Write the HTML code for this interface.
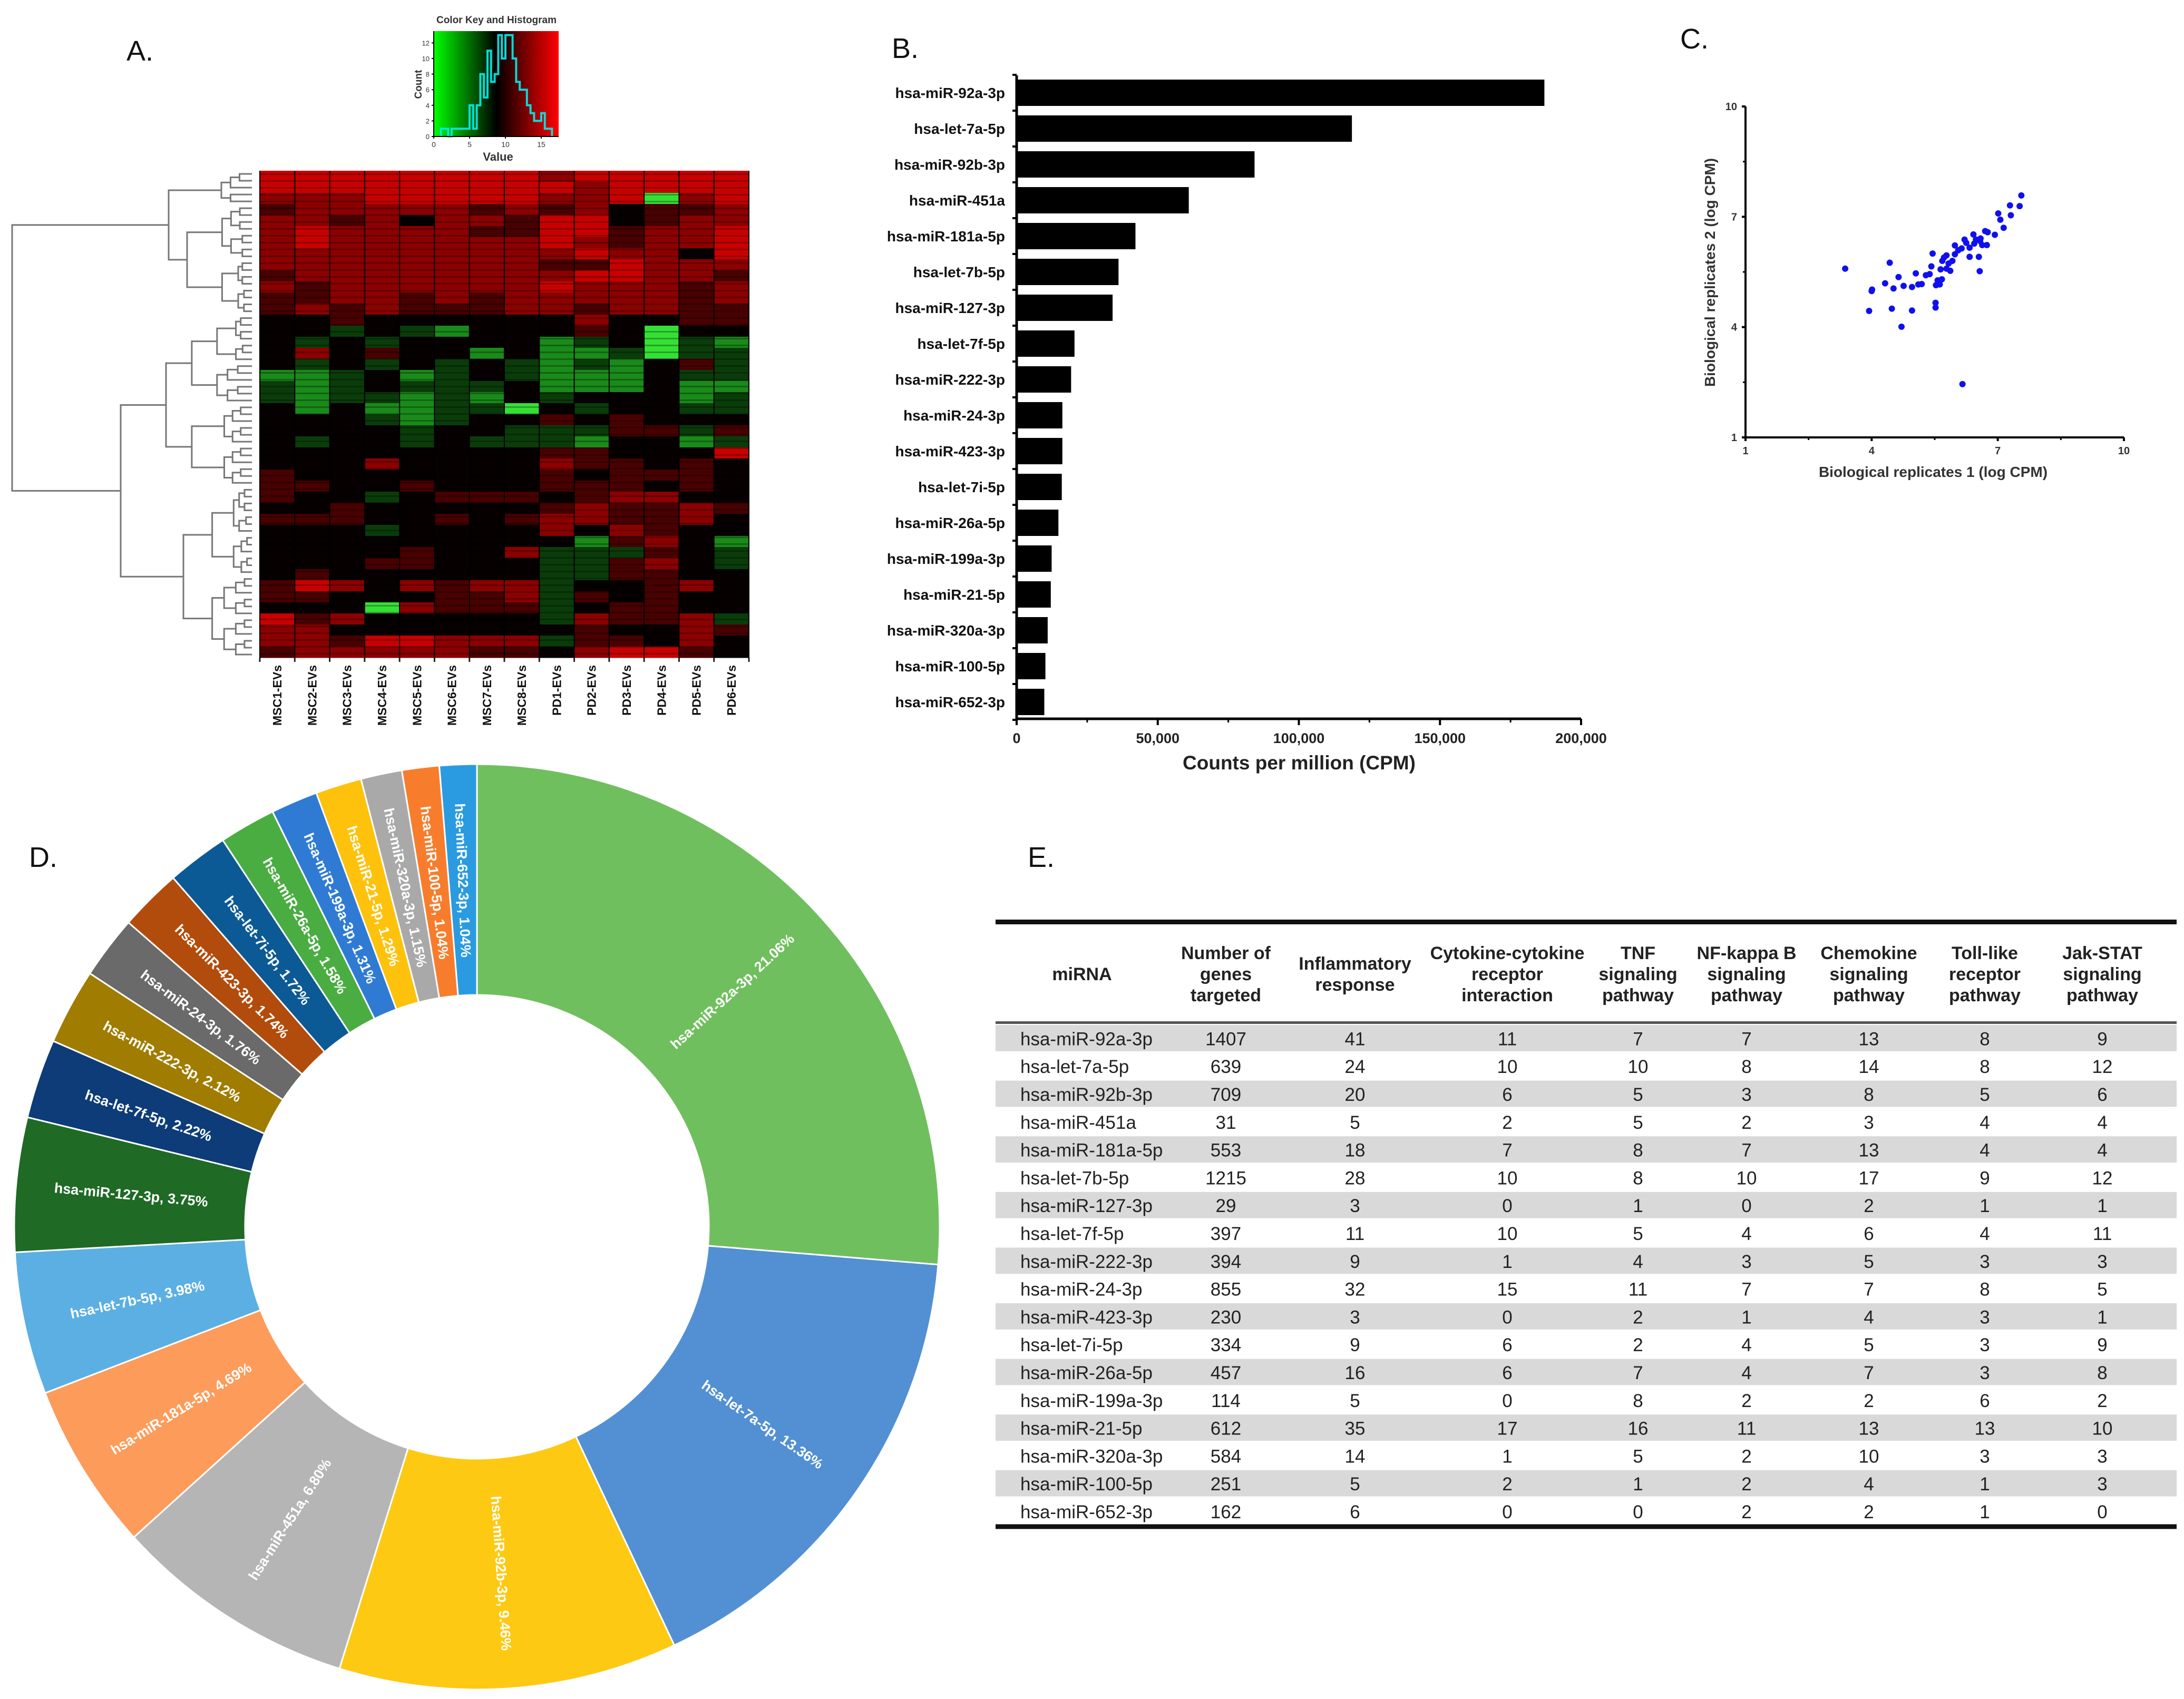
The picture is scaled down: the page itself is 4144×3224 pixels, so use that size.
<!DOCTYPE html>
<html><head><meta charset="utf-8">
<style>
html,body{margin:0;padding:0;background:#fff;}
svg{display:block;}
text{font-family:"Liberation Sans",Arial,sans-serif;}
.narrow{font-family:"Liberation Sans Narrow","Liberation Sans",sans-serif;}
</style></head>
<body>
<svg id="fig" xmlns="http://www.w3.org/2000/svg" width="4144" height="3224" viewBox="0 0 4144 3224">
<rect x="0" y="0" width="4144" height="3224" fill="#fff"/>
<g id="letters" font-size="54" fill="#111">
<text x="240" y="115">A.</text>
<text x="1692" y="110">B.</text>
<text x="3188" y="92">C.</text>
<text x="55" y="1645">D.</text>
<text x="1950" y="1645">E.</text>
</g>
<g id="heat"></g>
<g id="bars"></g>
<g id="scatter"></g>
<g id="donut"></g>
<g id="table"></g>
</svg>
<script>
// ---------- Panel A data ----------
const heatCols = ["MSC1-EVs","MSC2-EVs","MSC3-EVs","MSC4-EVs","MSC5-EVs","MSC6-EVs","MSC7-EVs","MSC8-EVs","PD1-EVs","PD2-EVs","PD3-EVs","PD4-EVs","PD5-EVs","PD6-EVs"];
const heatRows = [
"RRRRRRRRrRRRRR","RRRRRRRRRrRRRR","rrrRRRRRrrRBrR","drrrrrdrdrkddr","rrdrkrrdRRkdrr","rRrrrrddRRdrrR",
"rRrrrrrrRrdrrR","rrrrrrrrrRrrkR","rrrrrrrrddRrrr","drrrrrrrrRRrrd","rdrrrrrrRrrrdr","ddrrdrdrrrrrdr",
"drdrdddrrdrrdd","kkdkkkkkkrkkdd","kkgkgGkkkdkBkk","kgkgkkkkGgkBgG","krkdkkGkGGgBgg","kgkgkgkgGgGkdg",
"GGgkGgkgGGGkgg","gGgkgggkGGGkGG","gGggGgGkgkkkGg","kGkGGggBkgkkgg","kkkgGgkkdkdkkk","kkkkgkkgggddgd",
"kgkkgkgggGkkGg","kkkkkkkkddkkkR","kkkrkkkkrddkdk","dkkkkkkkdkdddk","ddkkdkkkdddkdk","dkkgkdddkdrrkk",
"kkdkkkkkdrddrd","dddkkdkdrrddrk","kkkgkkkkrkrdkk","kkkkkkkkkGdrkG","kkkkdkkrgggdkg","kkkddkkkggdrkg",
"kdkkkkkkggddkk","dRrkrdrrgkkdrk","ddkkkddrgdkdkk","kkkBrdddgkddkk","Rdrkkkkkgrddrg","rrkkkkkkkdkkrd",
"rrdRRrrrgddkrk","drrrrrddkrRRdk"];
const histBinStart = [1,1.5,2,2.5,3,3.5,4,4.5,5,5.5,6,6.5,7,7.5,8,8.5,9,9.5,10,10.5,11,11.5,12,12.5,13,13.5,14,14.5,15,15.5,16];
const histCounts = [1,1,0,1,1,1,1,1,4,1,4,8,5,11,7,8,13,10,13,13,10,7,6,6,4,3,2,2,3,1,1];
const histXTicks = [0,5,10,15];
const histYTicks = [0,2,4,6,8,10,12];
// ---------- Panel B data ----------
const barLabels = ["hsa-miR-92a-3p","hsa-let-7a-5p","hsa-miR-92b-3p","hsa-miR-451a","hsa-miR-181a-5p","hsa-let-7b-5p","hsa-miR-127-3p","hsa-let-7f-5p","hsa-miR-222-3p","hsa-miR-24-3p","hsa-miR-423-3p","hsa-let-7i-5p","hsa-miR-26a-5p","hsa-miR-199a-3p","hsa-miR-21-5p","hsa-miR-320a-3p","hsa-miR-100-5p","hsa-miR-652-3p"];
const barValues = [187000,118800,84300,61000,42100,36100,34000,20500,19300,16200,16200,16000,14800,12400,12100,11000,10200,9800];
const barTicks = [0,50000,100000,150000,200000];
const barTickLabels = ["0","50,000","100,000","150,000","200,000"];
// ---------- Panel C data ----------
const repX = [3.37,4.43,3.94,4.0,4.01,4.32,4.48,4.52,4.64,4.71,4.76,4.96,4.96,5.05,5.11,5.19,5.29,5.38,5.42,5.45,5.52,5.52,5.53,5.57,5.62,5.67,5.68,5.72,5.64,5.78,5.78,5.83,5.87,5.92,5.98,5.98,6.06,6.14,6.16,6.21,6.25,6.33,6.33,6.42,6.44,6.48,6.55,6.57,6.58,6.59,6.63,6.70,6.74,6.76,6.93,7.01,7.06,7.14,7.29,7.31,7.52,7.56];
const repY = [5.59,5.75,4.44,4.98,5.02,5.19,4.50,5.05,5.36,4.01,5.12,4.45,5.09,5.46,5.16,5.17,5.41,5.44,5.65,6.00,4.53,4.66,5.14,5.27,5.16,5.30,5.80,5.89,5.57,5.95,5.59,5.73,5.53,5.80,5.98,6.22,6.09,6.14,2.45,6.38,6.29,6.16,5.91,6.52,6.27,6.38,5.91,5.52,6.34,6.41,6.23,6.61,6.23,6.58,6.51,7.09,6.92,6.70,7.31,7.04,7.29,7.58];
const scatTicks = [1,4,7,10];
// ---------- Panel D data ----------
const pieLabels = ["hsa-miR-92a-3p","hsa-let-7a-5p","hsa-miR-92b-3p","hsa-miR-451a","hsa-miR-181a-5p","hsa-let-7b-5p","hsa-miR-127-3p","hsa-let-7f-5p","hsa-miR-222-3p","hsa-miR-24-3p","hsa-miR-423-3p","hsa-let-7i-5p","hsa-miR-26a-5p","hsa-miR-199a-3p","hsa-miR-21-5p","hsa-miR-320a-3p","hsa-miR-100-5p","hsa-miR-652-3p"];
const piePercents = [21.06,13.36,9.46,6.80,4.69,3.98,3.75,2.22,2.12,1.76,1.74,1.72,1.58,1.31,1.29,1.15,1.04,1.04];
const pieColors = ["#70bf5e","#5290d3","#fec912","#b5b5b5","#fd9b5a","#5cafe2","#1f6a25","#0d3c78","#a07c00","#6a6a6a","#b24c0c","#0c5a95","#4aad41","#2f7bd4","#fec20c","#a9a9a9","#f77d2d","#2a9be0"];
// ---------- Panel E data ----------
const tableHeaders = [["miRNA"],["Number of","genes","targeted"],["Inflammatory","response"],["Cytokine-cytokine","receptor","interaction"],["TNF","signaling","pathway"],["NF-kappa B","signaling","pathway"],["Chemokine","signaling","pathway"],["Toll-like","receptor","pathway"],["Jak-STAT","signaling","pathway"]];
const tableRows = [
["hsa-miR-92a-3p",1407,41,11,7,7,13,8,9],["hsa-let-7a-5p",639,24,10,10,8,14,8,12],["hsa-miR-92b-3p",709,20,6,5,3,8,5,6],
["hsa-miR-451a",31,5,2,5,2,3,4,4],["hsa-miR-181a-5p",553,18,7,8,7,13,4,4],["hsa-let-7b-5p",1215,28,10,8,10,17,9,12],
["hsa-miR-127-3p",29,3,0,1,0,2,1,1],["hsa-let-7f-5p",397,11,10,5,4,6,4,11],["hsa-miR-222-3p",394,9,1,4,3,5,3,3],
["hsa-miR-24-3p",855,32,15,11,7,7,8,5],["hsa-miR-423-3p",230,3,0,2,1,4,3,1],["hsa-let-7i-5p",334,9,6,2,4,5,3,9],
["hsa-miR-26a-5p",457,16,6,7,4,7,3,8],["hsa-miR-199a-3p",114,5,0,8,2,2,6,2],["hsa-miR-21-5p",612,35,17,16,11,13,13,10],
["hsa-miR-320a-3p",584,14,1,5,2,10,3,3],["hsa-miR-100-5p",251,5,2,1,2,4,1,3],["hsa-miR-652-3p",162,6,0,0,2,2,1,0]];

const NS="http://www.w3.org/2000/svg";
function mk(tag, attrs, parent, txt){const e=document.createElementNS(NS,tag);for(const k in attrs)e.setAttribute(k,attrs[k]);if(txt!==undefined)e.textContent=txt;parent.appendChild(e);return e;}

// ===== Panel A heatmap =====
(function(){
const g=document.getElementById('heat');
const X0=493,X1=1421,Y0=324,Y1=1248;
const cw=(X1-X0)/heatCols.length, rh=(Y1-Y0)/heatRows.length;
const cmap={R:"#c80000",r:"#8c0000",d:"#480000",k:"#060000",g:"#0a3c0a",G:"#1a8a1a",B:"#35e035"};
heatRows.forEach((row,i)=>{for(let j=0;j<heatCols.length;j++){
  const c=mk('rect',{x:X0+j*cw,y:Y0+i*rh,width:cw+0.5,height:rh+0.5,fill:cmap[row[j]]},g);
  
  
}});
// stripe texture
for(let y=Y0+6.5;y<Y1;y+=13){mk('line',{x1:X0,x2:X1,y1:y,y2:y,stroke:"#000","stroke-width":3,opacity:0.28},g);}
for(let j=0;j<=heatCols.length;j++){
  mk('line',{x1:X0+j*cw,x2:X0+j*cw,y1:Y0,y2:Y1,stroke:"#000","stroke-width":2},g);
  mk('line',{x1:X0+j*cw,x2:X0+j*cw,y1:Y1,y2:Y1+8,stroke:"#222","stroke-width":3},g);
}
heatCols.forEach((c,j)=>{
  const t=mk('text',{x:0,y:0,transform:`translate(${X0+(j+0.5)*cw+8},1262) rotate(-90)`,"text-anchor":"end","font-size":23,"font-weight":"bold",fill:"#111"},g,c);
  
  
});
// dendrogram
const dg=mk('g',{stroke:"#777","stroke-width":3,fill:"none"},g);


const NL=71, LX=478, ly=i=>Y0+6+i*(Y1-Y0-12)/(NL-1);
function node(lo,hi,x,depth){
  if(lo===hi) return ly(lo);
  const mid=Math.floor((lo+hi)/2);
  const cx=x+(LX-x)*(0.3+0.12*((lo+depth)%3));
  const ya=node(lo,mid,mid===lo?LX:cx,depth+1), yb=node(mid+1,hi,mid+1===hi?LX:cx,depth+1);
  const xa=mid===lo?LX:cx, xb=mid+1===hi?LX:cx;
  mk('path',{d:`M${xa},${ya}H${x}V${yb}H${xb}`},dg);
  return (ya+yb)/2;
}
function sub(lo,hi,x){return node(lo,hi,x,0);}
const a1=sub(0,4,420), a2=sub(5,20,355);
mk('path',{d:`M420,${a1}H320V${a2}H355`},dg);
const b1=sub(21,45,315), b2=sub(46,70,348);
mk('path',{d:`M315,${b1}H229V${b2}H348`},dg);
const A=(a1+a2)/2,B=(b1+b2)/2;
mk('path',{d:`M320,${A}H23V${B}H229`},dg);
// color key
const k=mk('g',{},g);


const defs=mk('defs',{},k);
const lg=mk('linearGradient',{id:'gk',x1:0,x2:1,y1:0,y2:0},defs);
mk('stop',{offset:"0",'stop-color':"#00ff00"},lg);mk('stop',{offset:"0.5",'stop-color':"#000"},lg);mk('stop',{offset:"1",'stop-color':"#ff0000"},lg);
const KX0=823,KX1=1060,KY0=59,KY1=259;
const vx=v=>KX0+v*13.6, cy=c=>KY1-c*14.8;
mk('rect',{x:KX0,y:KY0,width:KX1-KX0,height:KY1-KY0,fill:"url(#gk)"},k);
let d=`M${vx(histBinStart[0])},${KY1}`;
histBinStart.forEach((b,i)=>{d+=`V${cy(histCounts[i])}H${vx(b+0.5)}`;});
d+=`V${KY1}`;
const hp=mk('path',{d:d,fill:"none",stroke:"#00f0f0","stroke-width":4,opacity:0.9},k);


mk('line',{x1:KX0,x2:KX1,y1:KY1,y2:KY1,stroke:"#000","stroke-width":2},k);
mk('line',{x1:KX0,x2:KX0,y1:KY0,y2:KY1,stroke:"#000","stroke-width":2},k);
histXTicks.forEach(v=>{mk('line',{x1:vx(v),x2:vx(v),y1:KY1,y2:KY1+4,stroke:"#000","stroke-width":2},k);
  mk('text',{x:vx(v),y:KY1+20,"font-size":14,"text-anchor":"middle",fill:"#333"},k,String(v));});
histYTicks.forEach(v=>{mk('line',{x1:KX0-4,x2:KX0,y1:cy(v),y2:cy(v),stroke:"#000","stroke-width":2},k);
  mk('text',{x:KX0-8,y:cy(v)+5,"font-size":13,"text-anchor":"end",fill:"#333"},k,String(v));});
mk('text',{x:942,y:44,"font-size":19,"font-weight":"bold","text-anchor":"middle",fill:"#333"},k,"Color Key and Histogram");
mk('text',{x:945,y:305,"font-size":22,"font-weight":"bold","text-anchor":"middle",fill:"#333"},k,"Value");
mk('text',{x:0,y:0,transform:"translate(800,160) rotate(-90)","font-size":19,"font-weight":"bold","text-anchor":"middle",fill:"#333"},k,"Count");
})();

// ===== Panel B bars =====
(function(){
const g=document.getElementById('bars');
const AX=1929, AXR=3000, AY=1364, top=143;
const xs=v=>AX+v/200000*(AXR-AX);
const y0=176, step=68, bh=50;
barLabels.forEach((l,i)=>{
  const r=mk('rect',{x:AX,y:y0+i*step-bh/2,width:xs(barValues[i])-AX,height:bh,fill:"#000"},g);
  
  
  const t=mk('text',{x:1907,y:y0+i*step+10,"font-size":28,"font-weight":"bold","text-anchor":"end",fill:"#111"},g,l);
  
  
});
mk('line',{x1:AX,x2:AX,y1:top,y2:AY,stroke:"#000","stroke-width":5},g);
mk('line',{x1:AX,x2:AXR,y1:AY,y2:AY,stroke:"#000","stroke-width":5},g);
for(let i=0;i<=barLabels.length;i++){const yy=y0-step/2+i*step; mk('line',{x1:AX-8,x2:AX,y1:yy,y2:yy,stroke:"#000","stroke-width":4},g);}
barTicks.forEach((v,i)=>{
  mk('line',{x1:xs(v),x2:xs(v),y1:AY,y2:AY+12,stroke:"#000","stroke-width":4},g);
  if(i<barTicks.length-1){const m=xs(v+25000);mk('line',{x1:m,x2:m,y1:AY,y2:AY+7,stroke:"#000","stroke-width":3},g);}
  const t=mk('text',{x:xs(v),y:1410,"font-size":27,"font-weight":"bold","text-anchor":"middle",fill:"#222"},g,barTickLabels[i]);
  
  
});
const tt=mk('text',{x:2465,y:1460,"font-size":37,"font-weight":"bold","text-anchor":"middle",fill:"#222"},g,"Counts per million (CPM)");


})();

// ===== Panel C scatter =====
(function(){
const g=document.getElementById('scatter');
const X0=3312,X1=4030,Y0=830,Y1=202;
const sx=v=>X0+(v-1)/9*(X1-X0), sy=v=>Y0-(v-1)/9*(Y0-Y1);
mk('line',{x1:X0,x2:X1,y1:Y0,y2:Y0,stroke:"#000","stroke-width":4},g);
mk('line',{x1:X0,x2:X0,y1:Y0,y2:Y1,stroke:"#000","stroke-width":4},g);
scatTicks.forEach((v,i)=>{
  mk('line',{x1:sx(v),x2:sx(v),y1:Y0,y2:Y0+7,stroke:"#000","stroke-width":4},g);
  mk('line',{x1:X0-7,x2:X0,y1:sy(v),y2:sy(v),stroke:"#000","stroke-width":4},g);
  if(i<scatTicks.length-1){mk('line',{x1:sx(v+1.5),x2:sx(v+1.5),y1:Y0,y2:Y0+5,stroke:"#000","stroke-width":3},g);
    mk('line',{x1:X0-5,x2:X0,y1:sy(v+1.5),y2:sy(v+1.5),stroke:"#000","stroke-width":3},g);}
  mk('text',{x:sx(v),y:Y0+32,"font-size":20,"font-weight":"bold","text-anchor":"middle",fill:"#333"},g,String(v));
  mk('text',{x:X0-16,y:sy(v)+7,"font-size":20,"font-weight":"bold","text-anchor":"end",fill:"#333"},g,String(v));
});
repX.forEach((x,i)=>{
  const c=mk('circle',{cx:sx(x),cy:sy(repY[i]),r:6,fill:"#1010ee"},g);
  
  
});
const xt=mk('text',{x:3668,y:905,"font-size":28,"font-weight":"bold","text-anchor":"middle",fill:"#333"},g,"Biological replicates 1 (log CPM)");


const yt=mk('text',{x:0,y:0,transform:"translate(3254,517) rotate(-90)","font-size":28,"font-weight":"bold","text-anchor":"middle",fill:"#333"},g,"Biological replicates 2 (log CPM)");


})();

// ===== Panel D donut =====
(function(){
const g=document.getElementById('donut');
const CX=905,CY=2328,RO=878,RI=440;
const total=piePercents.reduce((a,b)=>a+b,0);
const pt=(a,r)=>[CX+r*Math.sin(a),CY-r*Math.cos(a)];
let acc=0;
piePercents.forEach((p,i)=>{
  const a0=acc/total*2*Math.PI; acc+=p; const a1=acc/total*2*Math.PI;
  const large=(a1-a0)>Math.PI?1:0;
  const [x0,y0]=pt(a0,RO),[x1,y1]=pt(a1,RO),[x2,y2]=pt(a1,RI),[x3,y3]=pt(a0,RI);
  const s=mk('path',{d:`M${x0},${y0}A${RO},${RO} 0 ${large} 1 ${x1},${y1}L${x2},${y2}A${RI},${RI} 0 ${large} 0 ${x3},${y3}Z`,fill:pieColors[i],stroke:"#fff","stroke-width":3},g);
  
  
  const am=(a0+a1)/2, deg=am*180/Math.PI;
  const rl=p<3?RO-220:(RO+RI)/2;
  const [lx,ly]=pt(am,rl);
  const rot=deg<=180?deg-90:deg-270;
  const t=mk('text',{x:0,y:0,transform:`translate(${lx},${ly}) rotate(${rot})`,"font-size":27,"font-weight":"bold","text-anchor":"middle","dominant-baseline":"central",fill:"#fff"},g,`${pieLabels[i]}, ${p.toFixed(2)}%`);
  
  
});
})();

// ===== Panel E table =====
(function(){
const g=document.getElementById('table');
const L=1889,R=4130,TOP=1749,HB=1941,RH=52.8;
const colX=[1936,2326,2571,2860,3108,3314,3546,3766,3989];
tableRows.forEach((row,i)=>{
  const y=HB+4+i*RH;
  if(i%2===0){const b=mk('rect',{x:L,y:y,width:R-L,height:RH-3,fill:"#d9d9d9"},g);
    
    }
  row.forEach((v,j)=>{
    const t=mk('text',{x:colX[j],y:y+RH/2+12,"font-size":35,"text-anchor":j===0?"start":"middle",fill:"#222",class:"narrow"},g,String(v));
    
    
  });
});
tableHeaders.forEach((h,j)=>{
  const cx=j===0?2053:colX[j];
  const n=h.length, cy=1848;
  h.forEach((line,k)=>{
    const t=mk('text',{x:cx,y:cy+(k-(n-1)/2)*40+12,"font-size":34,"font-weight":"bold","text-anchor":"middle",fill:"#222",class:"narrow"},g,line);
    
    
  });
});
mk('rect',{x:L,y:TOP-4,width:R-L,height:9,fill:"#111"},g);
mk('rect',{x:L,y:HB-3,width:R-L,height:5,fill:"#555"},g);
mk('rect',{x:L,y:HB+4+18*RH-3,width:R-L,height:9,fill:"#111"},g);
})();
</script>
</body></html>
